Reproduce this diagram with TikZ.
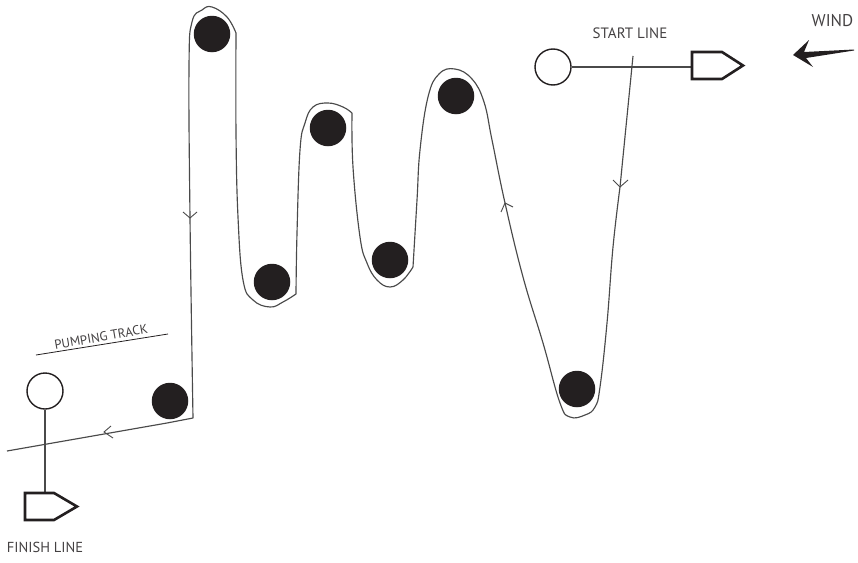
\documentclass[tikz,border=0pt]{standalone}
\usepackage{fontspec}
\setmainfont{PT Sans}
\usetikzlibrary{calc}
\definecolor{ink}{HTML}{231F20}
\definecolor{trackc}{HTML}{4A4A4A}
\tikzset{
  buoy/.style={circle,fill=ink,draw=none,minimum size=36.5pt,inner sep=0pt},
  endbuoy/.style={circle,draw=ink,line width=1.4pt,fill=white,minimum size=36pt,inner sep=0pt},
  boat/.style={draw=ink,line width=2.6pt,miter limit=10,fill=white},
  track/.style={draw=trackc,line width=1.15pt,line join=round},
  vee/.style={draw=trackc,line width=.9pt},
  linec/.style={draw=trackc,line width=1.2pt},
  lab/.style={text=ink!85,inner sep=0pt,font=\fontsize{15}{15}\selectfont}
}
\begin{document}
\begin{tikzpicture}[x=1pt,y=-1pt]
\useasboundingbox (0,0) rectangle (858,562);
% marks
\node[buoy] (b1) at (212,34) {};
\node[buoy] (b2) at (328,128) {};
\node[buoy] (b3) at (272,282) {};
\node[buoy] (b4) at (390,260) {};
\node[buoy] (b5) at (456,96) {};
\node[buoy] (b6) at (577,389) {};
\node[buoy] (b7) at (170,401) {};
% track
\coordinate (trackstart) at (633,56);
\coordinate (trackend) at (7,451);
\draw[track] (trackstart) -- (620,187)
  plot[smooth,tension=.7] coordinates {(620,187) (613,247) (607,323) (600,387) (595,407) (585,415) (570,417) (560,403) (543,343) (523,277) (505,203) (492,140) (484,102) (472,79) (455,69) (439,74) (428,97) (420,150) (417,200) (413,267)}
  -- (413,267)
  plot[smooth,tension=.7] coordinates {(413,267) (403,280) (390,287) (377,280) (367,263) (360,237) (353,167) (352,113)}
  -- (352,113)
  plot[smooth,tension=.7] coordinates {(352,113) (343,107) (328,103) (313,107) (305,123) (300,150) (297,233) (296,294)}
  -- (296,294)
  plot[smooth,tension=.7] coordinates {(296,294) (283,302) (270,307) (253,300) (243,280) (238,217) (236,133) (236,33)}
  -- (236,33)
  plot[smooth,tension=.7] coordinates {(236,33) (227,17) (212,7) (202,10) (192,22) (189,67) (190,218) (193,418)}
  -- (193,418) -- (167,423) -- (trackend);
% arrows on track
\draw[vee] (183,212) -- (190,218) -- (197,212);
\draw[vee] (501,212) -- (505,203) -- (513,207);
\draw[vee] (613,180) -- (620,187) -- (628,180);
\draw[vee] (111,426) -- (104,432) -- (113,438);
% start line
\node[endbuoy] (s1) at (553,67) {};
\coordinate (s2) at (692,67);
\draw[linec] (s1.east) -- (s2);
\draw[boat] (692,52) -- (722,52) -- (743,65.5) -- (722,79) -- (692,79) -- cycle;
\node[lab,anchor=center] (startlab) at (630,33) {START LINE};
% finish line
\node[endbuoy] (f1) at (45,391) {};
\coordinate (f2) at (45,493);
\draw[linec] (f1.south) -- (f2);
\draw[boat] (25,493) -- (54,493) -- (77,506.5) -- (54,520) -- (25,520) -- cycle;
\node[lab,anchor=center,font=\fontsize{14.5}{14.5}\selectfont] (finishlab) at (45,547) {FINISH LINE};
% pumping track
\coordinate (p1) at (36,355);
\coordinate (p2) at (168,334);
\draw[draw=ink,line width=.8pt] (p1) -- (p2);
\node[lab,rotate=10,anchor=center,font=\fontsize{13}{13}\selectfont] (pumplab) at (101,337) {PUMPING TRACK};
% wind
\node[lab,anchor=center,font=\fontsize{17}{17}\selectfont] (windlab) at (832.5,21) {WIND};
\fill[ink] (793,55) -- (809,40) -- (804,52) -- (854,49.5) -- (854,50.5) -- (806,58) -- (813,67) -- cycle;
\end{tikzpicture}
\end{document}
